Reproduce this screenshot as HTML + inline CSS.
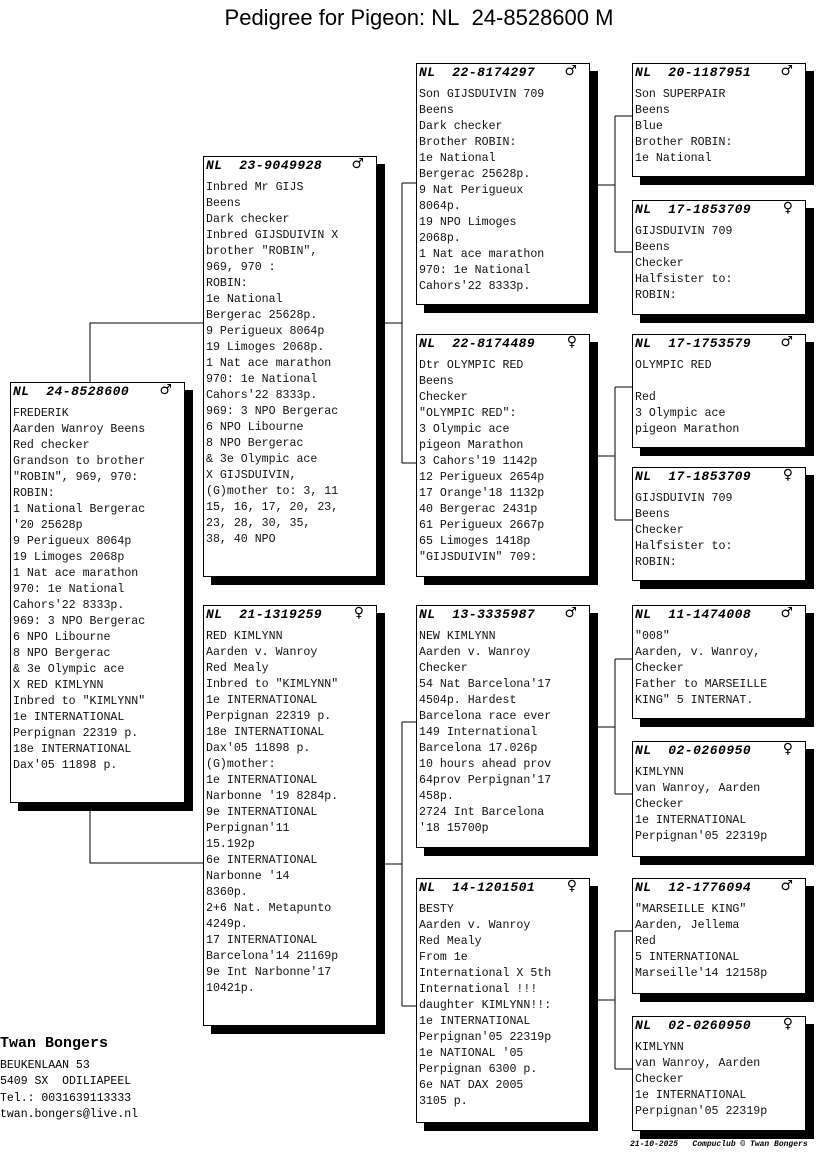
<!DOCTYPE html>
<html><head><meta charset="utf-8"><style>
body{margin:0;width:816px;height:1172px;background:#fff;position:relative;overflow:hidden;font-family:"Liberation Mono",monospace;}
.b{position:absolute;border:1px solid #000;background:#fff;box-shadow:8px 8px 0 #000;box-sizing:border-box;}
.h{position:absolute;left:2px;top:1px;font-weight:bold;font-style:italic;font-size:13px;white-space:pre;line-height:16px;letter-spacing:0.5px}
.s{position:absolute;right:12px;top:-1px;font-size:14px;font-weight:bold;line-height:16px;font-family:"DejaVu Sans",sans-serif}
.t{position:absolute;left:2px;top:23px;font-size:11.6px;line-height:16px;white-space:pre;color:#111}
svg{position:absolute;left:0;top:0}
</style></head><body>
<div style="position:absolute;left:0;width:838px;top:5px;text-align:center;font:22px 'Liberation Sans',sans-serif">Pedigree for Pigeon: NL&nbsp; 24-8528600 M</div>
<svg width="816" height="1172"><g stroke="#000" stroke-width="1" fill="none">
<path d="M90 382V323H203M90 810V863H203"/>
<path d="M384 323H402M402 183V463M402 183H416M402 463H416"/>
<path d="M384 864H402M402 722V1006M402 722H416M402 1006H416"/>
<path d="M597 185H615M615 116V252M615 116H632M615 252H632"/>
<path d="M597 456H615M615 387V520M615 387H632M615 520H632"/>
<path d="M597 727H615M615 659V794M615 659H632M615 794H632"/>
<path d="M597 1000H615M615 931V1069M615 931H632M615 1069H632"/>
</g></svg>

<div class="b" style="left:10px;top:382px;width:175px;height:421px"><div class="h">NL  24-8528600</div><div class="s">♂</div><div class="t">FREDERIK
Aarden Wanroy Beens
Red checker
Grandson to brother
"ROBIN", 969, 970:
ROBIN:
1 National Bergerac
'20 25628p
9 Perigueux 8064p
19 Limoges 2068p
1 Nat ace marathon
970: 1e National
Cahors'22 8333p.
969: 3 NPO Bergerac
6 NPO Libourne
8 NPO Bergerac
&amp; 3e Olympic ace
X RED KIMLYNN
Inbred to "KIMLYNN"
1e INTERNATIONAL
Perpignan 22319 p.
18e INTERNATIONAL
Dax'05 11898 p.</div></div>

<div class="b" style="left:203px;top:156px;width:174px;height:421px"><div class="h">NL  23-9049928</div><div class="s">♂</div><div class="t">Inbred Mr GIJS
Beens
Dark checker
Inbred GIJSDUIVIN X
brother "ROBIN",
969, 970 :
ROBIN:
1e National
Bergerac 25628p.
9 Perigueux 8064p
19 Limoges 2068p.
1 Nat ace marathon
970: 1e National
Cahors'22 8333p.
969: 3 NPO Bergerac
6 NPO Libourne
8 NPO Bergerac
&amp; 3e Olympic ace
X GIJSDUIVIN,
(G)mother to: 3, 11
15, 16, 17, 20, 23,
23, 28, 30, 35,
38, 40 NPO</div></div>

<div class="b" style="left:203px;top:605px;width:174px;height:421px"><div class="h">NL  21-1319259</div><div class="s">♀</div><div class="t">RED KIMLYNN
Aarden v. Wanroy
Red Mealy
Inbred to "KIMLYNN"
1e INTERNATIONAL
Perpignan 22319 p.
18e INTERNATIONAL
Dax'05 11898 p.
(G)mother:
1e INTERNATIONAL
Narbonne '19 8284p.
9e INTERNATIONAL
Perpignan'11
15.192p
6e INTERNATIONAL
Narbonne '14
8360p.
2+6 Nat. Metapunto
4249p.
17 INTERNATIONAL
Barcelona'14 21169p
9e Int Narbonne'17
10421p.</div></div>

<div class="b" style="left:416px;top:63px;width:174px;height:242px"><div class="h">NL  22-8174297</div><div class="s">♂</div><div class="t">Son GIJSDUIVIN 709
Beens
Dark checker
Brother ROBIN:
1e National
Bergerac 25628p.
9 Nat Perigueux
8064p.
19 NPO Limoges
2068p.
1 Nat ace marathon
970: 1e National
Cahors'22 8333p.</div></div>

<div class="b" style="left:416px;top:334px;width:174px;height:243px"><div class="h">NL  22-8174489</div><div class="s">♀</div><div class="t">Dtr OLYMPIC RED
Beens
Checker
"OLYMPIC RED":
3 Olympic ace
pigeon Marathon
3 Cahors'19 1142p
12 Perigueux 2654p
17 Orange'18 1132p
40 Bergerac 2431p
61 Perigueux 2667p
65 Limoges 1418p
"GIJSDUIVIN" 709:</div></div>

<div class="b" style="left:416px;top:605px;width:174px;height:243px"><div class="h">NL  13-3335987</div><div class="s">♂</div><div class="t">NEW KIMLYNN
Aarden v. Wanroy
Checker
54 Nat Barcelona'17
4504p. Hardest
Barcelona race ever
149 International
Barcelona 17.026p
10 hours ahead prov
64prov Perpignan'17
458p.
2724 Int Barcelona
'18 15700p</div></div>

<div class="b" style="left:416px;top:878px;width:174px;height:245px"><div class="h">NL  14-1201501</div><div class="s">♀</div><div class="t">BESTY
Aarden v. Wanroy
Red Mealy
From 1e
International X 5th
International !!!
daughter KIMLYNN!!:
1e INTERNATIONAL
Perpignan'05 22319p
1e NATIONAL '05
Perpignan 6300 p.
6e NAT DAX 2005
3105 p.</div></div>

<div class="b" style="left:632px;top:63px;width:174px;height:114px"><div class="h">NL  20-1187951</div><div class="s">♂</div><div class="t">Son SUPERPAIR
Beens
Blue
Brother ROBIN:
1e National</div></div>
<div class="b" style="left:632px;top:200px;width:174px;height:115px"><div class="h">NL  17-1853709</div><div class="s">♀</div><div class="t">GIJSDUIVIN 709
Beens
Checker
Halfsister to:
ROBIN:</div></div>
<div class="b" style="left:632px;top:334px;width:174px;height:114px"><div class="h">NL  17-1753579</div><div class="s">♂</div><div class="t">OLYMPIC RED

Red
3 Olympic ace
pigeon Marathon</div></div>
<div class="b" style="left:632px;top:467px;width:174px;height:114px"><div class="h">NL  17-1853709</div><div class="s">♀</div><div class="t">GIJSDUIVIN 709
Beens
Checker
Halfsister to:
ROBIN:</div></div>
<div class="b" style="left:632px;top:605px;width:174px;height:114px"><div class="h">NL  11-1474008</div><div class="s">♂</div><div class="t">"008"
Aarden, v. Wanroy,
Checker
Father to MARSEILLE
KING" 5 INTERNAT.</div></div>
<div class="b" style="left:632px;top:741px;width:174px;height:116px"><div class="h">NL  02-0260950</div><div class="s">♀</div><div class="t">KIMLYNN
van Wanroy, Aarden
Checker
1e INTERNATIONAL
Perpignan'05 22319p</div></div>
<div class="b" style="left:632px;top:878px;width:174px;height:116px"><div class="h">NL  12-1776094</div><div class="s">♂</div><div class="t">"MARSEILLE KING"
Aarden, Jellema
Red
5 INTERNATIONAL
Marseille'14 12158p</div></div>
<div class="b" style="left:632px;top:1016px;width:174px;height:115px"><div class="h">NL  02-0260950</div><div class="s">♀</div><div class="t">KIMLYNN
van Wanroy, Aarden
Checker
1e INTERNATIONAL
Perpignan'05 22319p</div></div>

<div style="position:absolute;left:0;top:1035px;font-weight:bold;font-size:15px">Twan Bongers</div>
<div style="position:absolute;left:0;top:1058px;font-size:11.5px;line-height:16.3px;white-space:pre">BEUKENLAAN 53
5409 SX  ODILIAPEEL
Tel.: 0031639113333
twan.bongers@live.nl</div>
<div style="position:absolute;left:630px;top:1140px;font-size:8px;font-style:italic;font-weight:bold;white-space:pre">21-10-2025   Compuclub © Twan Bongers</div>
</body></html>
